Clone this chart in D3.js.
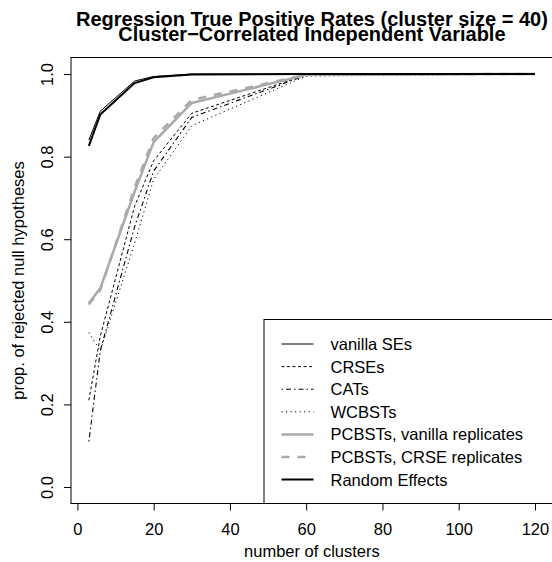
<!DOCTYPE html>
<html>
<head>
<meta charset="utf-8">
<script src="https://cdn.jsdelivr.net/npm/d3@7"></script>
<style>
  html, body { margin: 0; padding: 0; background: #fff; }
  svg { display: block; font-family: "Liberation Sans", Arial, Helvetica, sans-serif; }
</style>
</head>
<body>
<svg id="chart" width="552" height="562"></svg>
<script>
// ---- data ----
const clusters = [3, 6, 15, 20, 30, 60, 120];
const vanillaSEs   = [0.840, 0.910, 0.983, 0.994, 1.000, 1.000, 1.000];
const crses        = [0.210, 0.365, 0.680, 0.790, 0.905, 0.998, 1.000];
const cats         = [0.110, 0.330, 0.630, 0.765, 0.895, 0.997, 1.000];
const wcbsts       = [0.374, 0.330, 0.590, 0.745, 0.875, 0.995, 1.000];
const pcbstVanilla = [0.445, 0.481, 0.715, 0.835, 0.930, 0.998, 1.000];
const pcbstCrse    = [0.442, 0.477, 0.725, 0.845, 0.937, 0.999, 1.000];
const randomEff    = [0.826, 0.902, 0.978, 0.992, 0.999, 1.000, 1.000];
const xTicks = [0, 20, 40, 60, 80, 100, 120];
const yTicks = [0.0, 0.2, 0.4, 0.6, 0.8, 1.0];
const yTickLabels = ["0.0", "0.2", "0.4", "0.6", "0.8", "1.0"];
const seriesNames = ["vanilla SEs", "CRSEs", "CATs", "WCBSTs",
  "PCBSTs, vanilla replicates", "PCBSTs, CRSE replicates", "Random Effects"];
const titleLines = ["Regression True Positive Rates (cluster size = 40)",
  "Cluster\u2212Correlated Independent Variable"];
const xLabel = "number of clusters";
const yLabel = "prop. of rejected null hypotheses";

// ---- styles ----
const styles = [
  { color: "#000", width: 1,   dash: null },
  { color: "#000", width: 1,   dash: "3,2.5" },
  { color: "#000", width: 1.1, dash: "1.5,3,5,3" },
  { color: "#000", width: 1,   dash: "1.2,3.3" },
  { color: "#aaaaaa", width: 2.5, dash: null },
  { color: "#aaaaaa", width: 2.5, dash: "8,8" },
  { color: "#000", width: 2,   dash: null }
];
const seriesData = [vanillaSEs, crses, cats, wcbsts, pcbstVanilla, pcbstCrse, randomEff];

const svg = d3.select("#chart");
const L = 71, R = 552.8, T = 57.5, B = 503.5;
const xMin = 3, xMax = 120;
const xPad = (xMax - xMin) * 0.04;
const x = d3.scaleLinear().domain([xMin - xPad, xMax + xPad]).range([L, R]);
const y = d3.scaleLinear().domain([-0.04, 1.04]).range([B, T]);

const fontSize = 16.5;

// title
titleLines.forEach((t, i) => {
  svg.append("text")
    .attr("x", (L + R) / 2).attr("y", 26 + i * 14.5)
    .attr("text-anchor", "middle")
    .attr("font-weight", "bold")
    .attr("font-size", 20)
    .text(t);
});

// lines
const line = d3.line().x((d, i) => x(clusters[i])).y(d => y(d));
seriesData.forEach((s, k) => {
  const st = styles[k];
  svg.append("path")
    .datum(s)
    .attr("d", line)
    .attr("fill", "none")
    .attr("stroke", st.color)
    .attr("stroke-width", st.width)
    .attr("stroke-dasharray", st.dash)
    .attr("stroke-linejoin", "round");
});

// axes
const xAxis = d3.axisBottom(x).tickValues(xTicks).tickSize(7).tickPadding(13)
  .tickFormat(d3.format("d"));
const gx = svg.append("g").attr("transform", `translate(0,${B})`).call(xAxis);
gx.select(".domain").remove();
gx.selectAll("text").attr("font-size", fontSize).attr("font-family", null).attr("dy", "0.71em");
gx.selectAll("line").attr("stroke", "#000");

const yAxis = d3.axisLeft(y).tickValues(yTicks).tickSize(7)
  .tickFormat((d, i) => yTickLabels[i]);
const gy = svg.append("g").attr("transform", `translate(${L},0)`).call(yAxis);
gy.select(".domain").remove();
gy.selectAll("line").attr("stroke", "#000");
gy.selectAll(".tick text")
  .attr("font-size", fontSize).attr("font-family", null)
  .attr("text-anchor", "middle").attr("dy", null)
  .attr("x", null).attr("y", 0)
  .attr("transform", `translate(${53 - L},0) rotate(-90)`);

// box
svg.append("rect")
  .attr("x", L).attr("y", T).attr("width", R - L).attr("height", B - T)
  .attr("fill", "none").attr("stroke", "#000").attr("stroke-width", 1);

// axis labels
svg.append("text")
  .attr("x", (L + R) / 2).attr("y", 557)
  .attr("text-anchor", "middle").attr("font-size", fontSize)
  .text(xLabel);
svg.append("text")
  .attr("transform", `translate(24,${(T + B) / 2}) rotate(-90)`)
  .attr("text-anchor", "middle").attr("font-size", fontSize)
  .text(yLabel);

// legend
const lg = svg.append("g");
const lgTop = 319.5;
lg.append("rect")
  .attr("x", 264).attr("y", lgTop).attr("width", R - 264).attr("height", B - lgTop)
  .attr("fill", "#fff").attr("stroke", "#000").attr("stroke-width", 1);
seriesNames.forEach((name, k) => {
  const cy = 344 + k * 22.6;
  const st = styles[k];
  lg.append("line")
    .attr("x1", 281.5).attr("x2", 313.5).attr("y1", cy).attr("y2", cy)
    .attr("stroke", st.color).attr("stroke-width", st.width)
    .attr("stroke-dasharray", st.dash);
  lg.append("text")
    .attr("x", 330.5).attr("y", cy).attr("dy", "0.36em")
    .attr("font-size", fontSize)
    .text(name);
});
</script>
</body>
</html>
